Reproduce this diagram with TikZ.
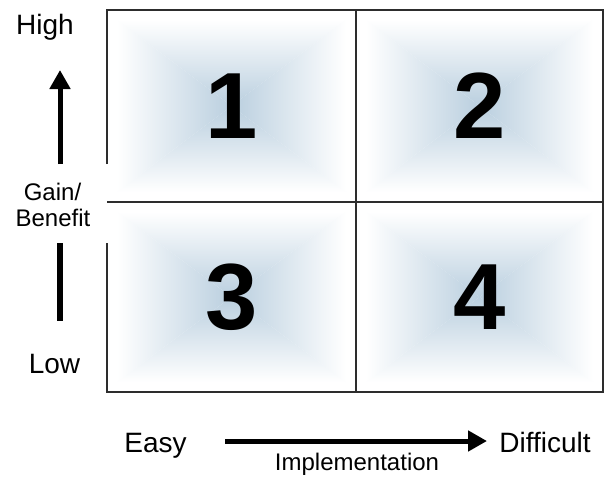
\documentclass[tikz,border=0pt]{standalone}
\usepackage{fontspec}
\setmainfont{Liberation Sans}
\usetikzlibrary{arrows.meta}
\definecolor{cellblue}{RGB}{186,207,223}
\definecolor{gridline}{RGB}{45,45,45}
\tikzset{
  lbl/.style={font=\fontsize{28}{30}\selectfont, anchor=base, inner sep=0pt},
  smalllbl/.style={font=\fontsize{24}{26}\selectfont, anchor=base, inner sep=0pt},
  digit/.style={font=\fontsize{94}{94}\selectfont\bfseries, inner sep=0pt},
  gridln/.style={draw=gridline, line width=1.6pt},
  bigarrow/.style={line width=5pt, -{Triangle[length=19pt,width=20pt]}},
  bar/.style={line width=5.5pt},
}
\newcommand\pillowcell[4]{%
  \coordinate (pa) at ({#1+10},{#2+10});
  \coordinate (pb) at ({#3-10},{#2+10});
  \coordinate (pc) at ({#3-10},{#4-10});
  \coordinate (pd) at ({#1+10},{#4-10});
  \coordinate (pm) at ({(#1+#3)/2},{(#2+#4)/2});
  \shade[top color=white,bottom color=cellblue] (pa)--(pb)--(pm)--cycle;
  \shade[top color=cellblue,bottom color=white] (pd)--(pc)--(pm)--cycle;
  \shade[left color=white,right color=cellblue] (pa)--(pd)--(pm)--cycle;
  \shade[left color=cellblue,right color=white] (pb)--(pc)--(pm)--cycle;
}
\begin{document}
\begin{tikzpicture}[x=1pt,y=-1pt]
\useasboundingbox[fill=white] (0,0) rectangle (604,479);
% shaded cells
\pillowcell{107}{10}{356}{202}
\pillowcell{356}{10}{603}{202}
\pillowcell{107}{202}{356}{392}
\pillowcell{356}{202}{603}{392}
% grid
\coordinate (tl) at (107,10);
\coordinate (tr) at (603,10);
\coordinate (br) at (603,392);
\coordinate (bl) at (107,392);
\coordinate (gapT) at (107,164);
\coordinate (gapB) at (107,243);
\coordinate (mt) at (356,10);
\coordinate (mb) at (356,392);
\coordinate (ml) at (107,202);
\coordinate (mr) at (603,202);
\draw[gridln] (gapT) -- (tl) -- (tr) -- (br) -- (bl) -- (gapB);
\draw[gridln] (mt) -- (mb);
\draw[gridln] (ml) -- (mr);
% digits
\node[digit] (q1) at (231.5,106) {1};
\node[digit] (q2) at (479.5,106) {2};
\node[digit] (q3) at (231.5,297) {3};
\node[digit] (q4) at (479.5,297) {4};
% vertical axis
\node[lbl] (high) at (45,34) {High};
\node[smalllbl] (gain) at (52.5,200) {Gain/};
\node[smalllbl] (benefit) at (53,226) {Benefit};
\node[lbl] (low) at (54.5,373) {Low};
\coordinate (vup0) at (60,164);
\coordinate (vup1) at (60,70);
\coordinate (vdn0) at (60,243);
\coordinate (vdn1) at (60,321);
\draw[bigarrow] (vup0) -- (vup1);
\draw[bar] (vdn0) -- (vdn1);
% horizontal axis
\node[lbl] (easy) at (155.5,452) {Easy};
\node[lbl] (difficult) at (545,452) {Difficult};
\node[smalllbl] (impl) at (357,470) {Implementation};
\coordinate (h0) at (225,441);
\coordinate (h1) at (487,441);
\draw[bigarrow] (h0) -- (h1);
\end{tikzpicture}
\end{document}
